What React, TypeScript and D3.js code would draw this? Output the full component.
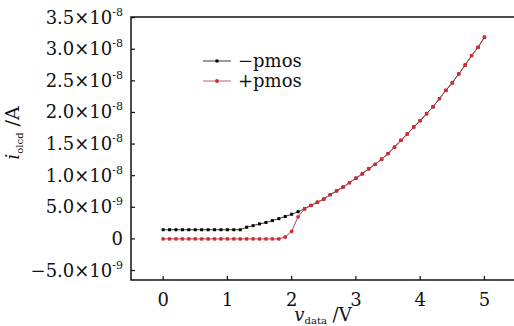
import React, { useEffect, useRef } from "react";
import * as d3 from "d3";

// v_data sweep (V)
const vData = [
  0.0, 0.1, 0.2, 0.3, 0.4, 0.5, 0.6, 0.7, 0.8, 0.9, 1.0, 1.1, 1.2, 1.3, 1.4, 1.5, 1.6,
  1.7, 1.8, 1.9, 2.0, 2.1, 2.2, 2.3, 2.4, 2.5, 2.6, 2.7, 2.8, 2.9, 3.0, 3.1, 3.2, 3.3,
  3.4, 3.5, 3.6, 3.7, 3.8, 3.9, 4.0, 4.1, 4.2, 4.3, 4.4, 4.5, 4.6, 4.7, 4.8, 4.9, 5.0,
];

// i_oled in units of 1e-9 A
const minusPmos = [
  1.45, 1.45, 1.45, 1.45, 1.45, 1.45, 1.45, 1.45, 1.45, 1.45, 1.45, 1.45, 1.45, 1.85, 2.1,
  2.37, 2.6, 2.9, 3.2, 3.55, 3.9, 4.3, 4.75, 5.3, 5.8, 6.3, 7.0, 7.6, 8.2, 8.9, 9.6, 10.3,
  11.1, 11.8, 12.6, 13.5, 14.5, 15.6, 16.6, 17.7, 18.7, 19.8, 20.9, 22.2, 23.5, 24.7,
  26.1, 27.5, 29.0, 30.3, 31.9,
];
const plusPmos = [
  0, 0, 0, 0, 0, 0, 0, 0, 0, 0, 0, 0, 0, 0, 0, 0, 0, 0, 0, 0.3, 1.2, 3.5, 4.75, 5.3, 5.8,
  6.3, 7.0, 7.6, 8.2, 8.9, 9.6, 10.3, 11.1, 11.8, 12.6, 13.5, 14.5, 15.6, 16.6, 17.7, 18.7,
  19.8, 20.9, 22.2, 23.5, 24.7, 26.1, 27.5, 29.0, 30.3, 31.9,
];

const xTicks = [0, 1, 2, 3, 4, 5];
const yTicks = [
  { v: -5e-9, m: "\u22125.0", e: "-9" },
  { v: 0, m: "0", e: "" },
  { v: 5e-9, m: "5.0", e: "-9" },
  { v: 1e-8, m: "1.0", e: "-8" },
  { v: 1.5e-8, m: "1.5", e: "-8" },
  { v: 2e-8, m: "2.0", e: "-8" },
  { v: 2.5e-8, m: "2.5", e: "-8" },
  { v: 3e-8, m: "3.0", e: "-8" },
  { v: 3.5e-8, m: "3.5", e: "-8" },
];

const W = 514;
const H = 326;
const FONT = "'DejaVu Serif', serif";

export default function App() {
  const ref = useRef<SVGSVGElement>(null);

  useEffect(() => {
    const svg = d3.select(ref.current);
    svg.selectAll("*").remove();

    const x = d3.scaleLinear().domain([-0.5, 5.46]).range([131, 514]);
    const y = d3.scaleLinear().domain([-6.5e-9, 3.51e-8]).range([280, 17]);

    const g = svg.append("g").attr("font-family", FONT);

    // frame: left, bottom, top
    g.append("path")
      .attr("d", `M514,17H131V280H514`)
      .attr("fill", "none")
      .attr("stroke", "#111")
      .attr("stroke-width", 1.5);

    // y ticks
    yTicks.forEach((t) => {
      const yy = y(t.v);
      g.append("line")
        .attr("x1", 131).attr("x2", 135)
        .attr("y1", yy).attr("y2", yy)
        .attr("stroke", "#111").attr("stroke-width", 1.2);
      const txt = g.append("text")
        .attr("x", 123)
        .attr("y", yy + 6)
        .attr("text-anchor", "end")
        .attr("font-size", 18)
        .attr("fill", "#111");
      if (t.e) {
        txt.append("tspan").text(t.m + "\u00d710");
        txt.append("tspan").attr("dy", -8).attr("font-size", 11).text(t.e);
      } else {
        txt.text(t.m);
      }
    });

    // x ticks
    xTicks.forEach((t) => {
      const xx = x(t);
      g.append("line")
        .attr("x1", xx).attr("x2", xx)
        .attr("y1", 280).attr("y2", 276)
        .attr("stroke", "#111").attr("stroke-width", 1.2);
      g.append("text")
        .attr("x", xx)
        .attr("y", 306)
        .attr("text-anchor", "middle")
        .attr("font-size", 18)
        .attr("fill", "#111")
        .text(t);
    });

    // axis titles
    const xt = g.append("text")
      .attr("x", 323).attr("y", 321)
      .attr("text-anchor", "middle")
      .attr("font-size", 18)
      .attr("fill", "#111");
    xt.append("tspan").attr("font-style", "italic").text("v");
    xt.append("tspan").attr("font-size", 10).attr("dy", 3).text("data");
    xt.append("tspan").attr("dy", -3).text(" /V");

    const yt = g.append("text")
      .attr("transform", "translate(19,133) rotate(-90)")
      .attr("text-anchor", "middle")
      .attr("font-size", 19)
      .attr("fill", "#111");
    yt.append("tspan").attr("font-style", "italic").text("i");
    yt.append("tspan").attr("font-size", 10).attr("dy", 4).text("olcd");
    yt.append("tspan").attr("dy", -4).text(" /A");

    const series = [
      { vals: minusPmos, line: "#3a3a3a", mark: "#000", square: true },
      { vals: plusPmos, line: "#b8404c", mark: "#d42a36", square: false },
    ];

    const lineGen = d3
      .line<number>()
      .x((_, i) => x(vData[i]))
      .y((d) => y(d * 1e-9));

    series.forEach((s) => {
      g.append("path")
        .attr("d", lineGen(s.vals))
        .attr("fill", "none")
        .attr("stroke", s.line)
        .attr("stroke-width", 1);
      s.vals.forEach((d, i) => {
        if (s.square) {
          g.append("rect")
            .attr("x", x(vData[i]) - 1.5)
            .attr("y", y(d * 1e-9) - 1.5)
            .attr("width", 3)
            .attr("height", 3)
            .attr("fill", s.mark);
        } else {
          g.append("circle")
            .attr("cx", x(vData[i]))
            .attr("cy", y(d * 1e-9))
            .attr("r", 1.9)
            .attr("fill", s.mark);
        }
      });
    });

    // legend
    const legend = [
      { label: "\u2212pmos", line: "#3a3a3a", mark: "#000", square: true, yy: 61 },
      { label: "+pmos", line: "#c06070", mark: "#d42a36", square: false, yy: 81 },
    ];
    legend.forEach((l) => {
      g.append("line")
        .attr("x1", 203).attr("x2", 231)
        .attr("y1", l.yy).attr("y2", l.yy)
        .attr("stroke", l.line).attr("stroke-width", 1);
      if (l.square) {
        g.append("rect").attr("x", 215.5).attr("y", l.yy - 1.5)
          .attr("width", 3).attr("height", 3).attr("fill", l.mark);
      } else {
        g.append("circle").attr("cx", 217).attr("cy", l.yy).attr("r", 1.9).attr("fill", l.mark);
      }
      g.append("text")
        .attr("x", 238)
        .attr("y", l.yy + 6)
        .attr("font-size", 18)
        .attr("fill", "#111")
        .text(l.label);
    });
  }, []);

  return (
    <svg
      ref={ref}
      width={W}
      height={H}
      style={{ position: "absolute", left: 0, top: 0, background: "#fff" }}
    />
  );
}
